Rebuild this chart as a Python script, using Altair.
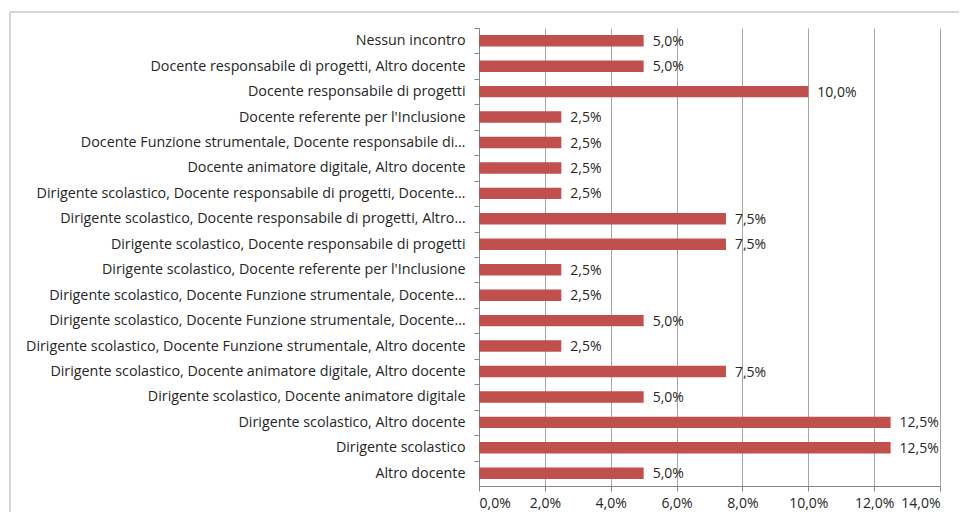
import altair as alt
import pandas as pd

categories = [
    "Nessun incontro",
    "Docente responsabile di progetti, Altro docente",
    "Docente responsabile di progetti",
    "Docente referente per l'Inclusione",
    "Docente Funzione strumentale, Docente responsabile di…",
    "Docente animatore digitale, Altro docente",
    "Dirigente scolastico, Docente responsabile di progetti, Docente…",
    "Dirigente scolastico, Docente responsabile di progetti, Altro…",
    "Dirigente scolastico, Docente responsabile di progetti",
    "Dirigente scolastico, Docente referente per l'Inclusione",
    "Dirigente scolastico, Docente Funzione strumentale, Docente…",
    "Dirigente scolastico, Docente Funzione strumentale, Docente…\u200b",
    "Dirigente scolastico, Docente Funzione strumentale, Altro docente",
    "Dirigente scolastico, Docente animatore digitale, Altro docente",
    "Dirigente scolastico, Docente animatore digitale",
    "Dirigente scolastico, Altro docente",
    "Dirigente scolastico",
    "Altro docente",
]
values = [5.0, 5.0, 10.0, 2.5, 2.5, 2.5, 2.5, 7.5, 7.5, 2.5, 2.5, 5.0, 2.5, 7.5, 5.0, 12.5, 12.5, 5.0]
x_ticks = [0, 2, 4, 6, 8, 10, 12, 14]

df = pd.DataFrame({"cat": categories, "val": values})

FONT = "Open Sans"
TXT = "#262626"
step = 458 / 18

y_enc = alt.Y(
    "cat:N",
    sort=categories,
    scale=alt.Scale(paddingInner=0.55, paddingOuter=0.275),
    axis=alt.Axis(
        title=None,
        labelFont=FONT,
        labelFontSize=14.3,
        labelColor=TXT,
        labelLimit=0,
        labelPadding=9,
        tickSize=5,
        tickColor="#868686",
        domainColor="#868686",
        tickOffset=-step / 2,
        labelOffset=step / 2,
    ),
)
x_enc = alt.X(
    "val:Q",
    scale=alt.Scale(domain=[0, 14], nice=False),
    axis=alt.Axis(
        title=None,
        values=x_ticks,
        labelExpr="replace(format(datum.value, '.1f'), '.', ',') + '%'",
        labelFont=FONT,
        labelFontSize=14,
        labelColor=TXT,
        labelPadding=5,
        tickSize=5,
        tickColor="#868686",
        domainColor="#868686",
        grid=True,
        gridColor="#A6A6A6",
        gridWidth=1,
    ),
)

base = alt.Chart(df)
bars = base.mark_bar(color="#C0504D").encode(x=x_enc, y=y_enc)
labels = base.transform_calculate(
    lbl="replace(format(datum.val, '.1f'), '.', ',') + '%'"
).mark_text(
    align="left", baseline="middle", dx=9, dy=1, font=FONT, fontSize=14, color=TXT
).encode(x=alt.X("val:Q"), y=alt.Y("cat:N", sort=categories), text="lbl:N")

frame_df = pd.DataFrame({"a": [0]})
frame_left = alt.Chart(frame_df).mark_rule(color="#C8C8C8", strokeWidth=1.5).encode(
    x=alt.value(-469), y=alt.value(-16), y2=alt.value(600)
)
frame_top = alt.Chart(frame_df).mark_rule(color="#C8C8C8", strokeWidth=1.5).encode(
    x=alt.value(-469), x2=alt.value(600), y=alt.value(-16)
)

chart = (
    alt.layer(bars, labels, frame_left, frame_top)
    .properties(
        width=461,
        height=458,
        autosize=alt.AutoSizeParams(type="none"),
        padding={"left": 471, "top": 20, "right": 19, "bottom": 26},
        background="white",
    )
    .configure_view(stroke=None)
)

chart.save("out.html", embed_options={"renderer": "svg", "actions": False})
